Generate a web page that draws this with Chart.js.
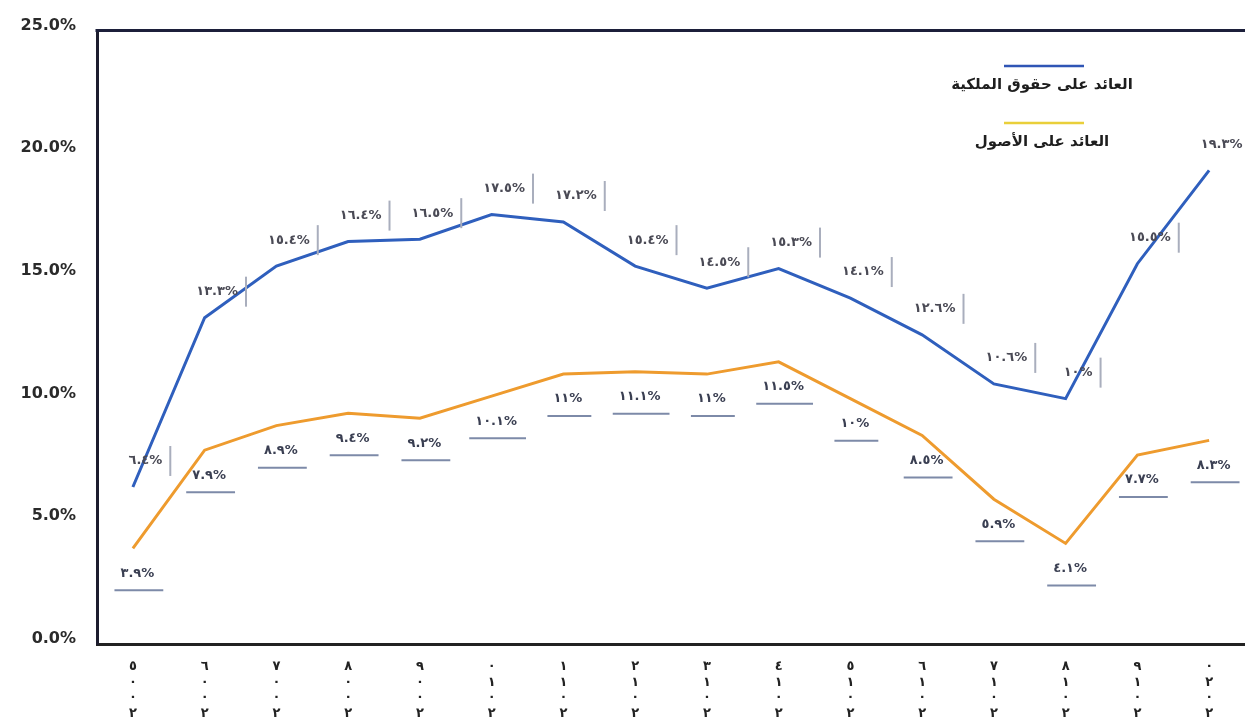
<!DOCTYPE html>
<html lang="ar">
<head>
<meta charset="utf-8">
<script src="https://cdn.jsdelivr.net/npm/chart.js@4.4.1/dist/chart.umd.min.js"></script>
<style>
  html, body { margin: 0; padding: 0; background: #fff; }
  #wrap { width: 1245px; height: 723px; position: relative; }
</style>
</head>
<body>
<div id="wrap"><canvas id="returnsChart"></canvas></div>
<script>
const years = [2005, 2006, 2007, 2008, 2009, 2010, 2011, 2012, 2013, 2014, 2015, 2016, 2017, 2018, 2019, 2020];
const roe = [6.4, 13.3, 15.4, 16.4, 16.5, 17.5, 17.2, 15.4, 14.5, 15.3, 14.1, 12.6, 10.6, 10.0, 15.5, 19.3];
const roa = [3.9, 7.9, 8.9, 9.4, 9.2, 10.1, 11.0, 11.1, 11.0, 11.5, 10.0, 8.5, 5.9, 4.1, 7.7, 8.3];
const yTicks = [0, 5, 10, 15, 20, 25];
const seriesNames = ['العائد على حقوق الملكية', 'العائد على الأصول'];

const AR_DIGITS = '٠١٢٣٤٥٦٧٨٩';
const toArabic = (s) => String(s).replace(/[0-9]/g, (d) => AR_DIGITS[d]);
const pctLabel = (v) => toArabic(Number.isInteger(v) ? v : v.toFixed(1)) + '%';
// years are printed rotated, so the digits stack from last to first
const yearLabel = (y) => toArabic(y).split('').reverse();

const FONT = '"DejaVu Sans", sans-serif';

// top edge of the plot frame runs off to the right side of the picture
const frameLine = {
  id: 'frameLine',
  afterDraw(chart) {
    const { ctx, chartArea } = chart;
    ctx.save();
    ctx.strokeStyle = '#1c1f3a';
    ctx.lineWidth = 3;
    ctx.beginPath();
    ctx.moveTo(chartArea.left - 1.5, chartArea.top);
    ctx.lineTo(chart.width, chartArea.top);
    ctx.stroke();
    ctx.restore();
  },
};

const pointLabels = {
  id: 'pointLabels',
  afterDatasetsDraw(chart) {
    const { ctx } = chart;
    ctx.save();
    ctx.font = 'bold 13px ' + FONT;
    ctx.letterSpacing = '3px';
    ctx.textAlign = 'center';
    ctx.textBaseline = 'middle';
    chart.data.datasets.forEach((ds, di) => {
      const meta = chart.getDatasetMeta(di);
      meta.data.forEach((pt, i) => {
        const text = pctLabel(ds.data[i]);
        const w = ctx.measureText(text).width;
        ctx.beginPath();
        if (di === 0) {
          const cx = pt.x + 14;
          const cy = pt.y - 26;
          ctx.fillStyle = '#4a4a55';
          ctx.fillText(text, cx, cy);
          ctx.strokeStyle = '#a9aebd';
          ctx.lineWidth = 2;
          ctx.moveTo(cx + w / 2 + 5, cy - 15);
          ctx.lineTo(cx + w / 2 + 5, cy + 15);
        } else {
          const cx = pt.x + 6;
          const cy = pt.y + 25;
          ctx.fillStyle = '#3a3f52';
          ctx.fillText(text, cx, cy);
          ctx.strokeStyle = '#7d8aa8';
          ctx.lineWidth = 2;
          ctx.moveTo(cx - w / 2 - 6, cy + 17);
          ctx.lineTo(cx + w / 2 + 6, cy + 17);
        }
        ctx.stroke();
      });
    });
    ctx.restore();
  },
};

const sideLegend = {
  id: 'sideLegend',
  afterDraw(chart) {
    const { ctx } = chart;
    const cx = 1044;
    ctx.save();
    chart.data.datasets.forEach((ds, i) => {
      const y = 66 + i * 57;
      ctx.strokeStyle = ds.legendColor;
      ctx.lineWidth = 2.5;
      ctx.beginPath();
      ctx.moveTo(cx - 40, y);
      ctx.lineTo(cx + 40, y);
      ctx.stroke();
      ctx.font = 'bold 15px ' + FONT;
      ctx.fillStyle = '#1e1e1e';
      ctx.textAlign = 'center';
      ctx.textBaseline = 'middle';
      ctx.direction = 'rtl';
      ctx.fillText(ds.label, cx - 2, y + 19);
    });
    ctx.restore();
  },
};

new Chart(document.getElementById('returnsChart'), {
  type: 'line',
  data: {
    labels: years.map(yearLabel),
    datasets: [
      {
        label: seriesNames[0],
        data: roe,
        borderColor: '#2f5fbd',
        legendColor: '#2f55b5',
        borderWidth: 3,
        pointRadius: 0,
        tension: 0,
      },
      {
        label: seriesNames[1],
        data: roa,
        borderColor: '#ee9b2e',
        legendColor: '#e9cf3a',
        borderWidth: 3,
        pointRadius: 0,
        tension: 0,
      },
    ],
  },
  options: {
    responsive: true,
    maintainAspectRatio: false,
    animation: false,
    layout: { padding: { top: 20, right: 0, left: 0, bottom: 0 } },
    plugins: {
      legend: { display: false },
      tooltip: { enabled: false },
    },
    scales: {
      x: {
        offset: true,
        border: { display: true, color: '#222', width: 3 },
        grid: { display: false, drawTicks: false },
        ticks: {
          autoSkip: false,
          maxRotation: 0,
          minRotation: 0,
          padding: 15,
          color: '#222',
          font: { family: FONT, weight: 'bold', size: 13, lineHeight: 1.2 },
        },
        afterFit: (s) => { s.height = 79; },
      },
      y: {
        min: 0,
        max: 25,
        border: { display: true, color: '#1d1d2e', width: 3 },
        grid: { display: false, drawTicks: false },
        afterBuildTicks: (s) => { s.ticks = yTicks.map((v) => ({ value: v })); },
        ticks: {
          padding: 21,
          labelOffset: -5,
          color: '#2a2a2a',
          font: { family: FONT, weight: 'bold', size: 16 },
          callback: (v) => v.toFixed(1) + '%',
        },
        afterFit: (s) => { s.width = 97; },
      },
    },
  },
  plugins: [frameLine, pointLabels, sideLegend],
});
</script>
</body>
</html>
